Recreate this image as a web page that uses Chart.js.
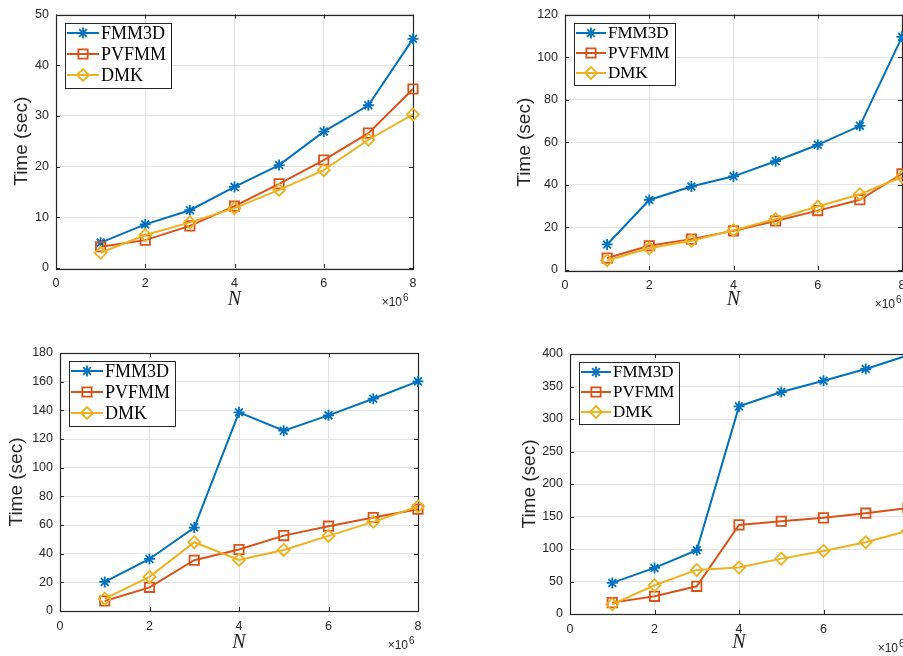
<!DOCTYPE html>
<html>
<head>
<meta charset="utf-8">
<script src="https://cdn.jsdelivr.net/npm/chart.js@4.4.1/dist/chart.umd.min.js"></script>
<style>
  html, body { margin: 0; padding: 0; background: #fff; overflow: hidden; width: 903px; height: 656px; }
  canvas { position: absolute; }
</style>
</head>
<body>
<canvas id="p1" width="450" height="320" style="left:0;top:0"></canvas>
<canvas id="p2" width="500" height="320" style="left:450px;top:0"></canvas>
<canvas id="p3" width="450" height="336" style="left:0;top:320px"></canvas>
<canvas id="p4" width="500" height="336" style="left:450px;top:320px"></canvas>
<script>
// N (in units of 10^6) shared by all four panels
var nValues = [1, 2, 3, 4, 5, 6, 7, 8];
var seriesNames = ['FMM3D', 'PVFMM', 'DMK'];

// top-left panel
var fmmA = [5.0, 8.6, 11.4, 16.0, 20.3, 26.9, 32.1, 45.2];
var pvfA = [4.2, 5.5, 8.3, 12.2, 16.6, 21.3, 26.6, 35.3];
var dmkA = [3.0, 6.5, 9.0, 11.8, 15.4, 19.3, 25.3, 30.3];
// top-right panel
var fmmB = [12.0, 32.9, 39.2, 44.0, 51.1, 58.8, 67.7, 109.5];
var pvfB = [5.6, 11.4, 14.5, 18.4, 23.0, 27.9, 33.0, 45.2];
var dmkB = [4.5, 10.2, 13.7, 18.7, 23.9, 29.8, 35.6, 43.7];
// bottom-left panel
var fmmC = [20.3, 36.3, 58.2, 138.6, 125.8, 136.5, 148.1, 160.2];
var pvfC = [7.0, 16.5, 35.4, 42.9, 52.6, 59.2, 65.2, 71.0];
var dmkC = [8.6, 23.8, 48.0, 35.6, 42.6, 52.4, 62.2, 72.9];
// bottom-right panel
var fmmD = [47.8, 70.9, 98.1, 319.4, 341.5, 358.9, 376.9, 398];
var pvfD = [17.5, 27.2, 42.6, 137.1, 142.7, 147.9, 155.1, 163];
var dmkD = [14.9, 44.2, 67.8, 71.4, 85.2, 97.0, 110.4, 128];

// axis ranges: [max, step]
var yRangeA = [50, 10];
var yRangeB = [120, 20];
var yRangeC = [180, 20];
var yRangeD = [400, 50];
var xRange = [8, 2];

var INK = '#262626';
var COLORS = ['#0072BD', '#D95319', '#EDB120'];
var STYLES = [
  { pointStyle: 'star', radius: 5.5 },
  { pointStyle: 'rect', radius: 6.6 },
  { pointStyle: 'rectRot', radius: 6 }
];

function pts(ys) {
  return ys.map(function (y, i) { return { x: nValues[i], y: y }; });
}

function drawMarker(ctx, st, x, y) {
  if (Chart.helpers && Chart.helpers.drawPoint) {
    Chart.helpers.drawPoint(ctx, { pointStyle: st.pointStyle, radius: st.radius, rotation: 0, borderWidth: 1.8 }, x, y);
  }
}

// MATLAB-like box: frame, inward ticks, legend box and the x10^6 exponent
var matlabBox = {
  id: 'matlabBox',
  beforeDatasetsDraw: function (chart) {
    var ctx = chart.ctx, a = chart.chartArea;
    var sx = chart.scales.x, sy = chart.scales.y, tl = 4;
    ctx.save();
    ctx.strokeStyle = INK;
    ctx.lineWidth = 1;
    ctx.beginPath();
    sx.ticks.forEach(function (t) {
      var px = Math.round(sx.getPixelForValue(t.value)) + 0.5;
      ctx.moveTo(px, a.bottom); ctx.lineTo(px, a.bottom - tl);
      ctx.moveTo(px, a.top); ctx.lineTo(px, a.top + tl);
    });
    sy.ticks.forEach(function (t) {
      var py = Math.round(sy.getPixelForValue(t.value)) + 0.5;
      ctx.moveTo(a.left, py); ctx.lineTo(a.left + tl, py);
      ctx.moveTo(a.right, py); ctx.lineTo(a.right - tl, py);
    });
    ctx.stroke();
    ctx.lineWidth = 1.2;
    ctx.strokeRect(Math.round(a.left) + 0.5, Math.round(a.top) + 0.5, Math.round(a.right - a.left), Math.round(a.bottom - a.top));
    ctx.restore();
  },
  afterDraw: function (chart, args, o) {
    var ctx = chart.ctx, a = chart.chartArea;
    ctx.save();
    // exponent label
    ctx.fillStyle = INK;
    ctx.textBaseline = 'middle';
    ctx.font = '12px "Liberation Sans", Arial, sans-serif';
    ctx.textAlign = 'right';
    var ex = a.right + o.expDx;
    ctx.fillText('\u00d710', ex, a.bottom + 35);
    ctx.font = '10px "Liberation Sans", Arial, sans-serif';
    ctx.textAlign = 'left';
    ctx.fillText('6', ex + 1, a.bottom + 30);
    // legend
    var x0 = Math.round(a.left + 9), y0 = Math.round(a.top + 8);
    ctx.fillStyle = '#fff';
    ctx.fillRect(x0, y0, o.w, o.h);
    ctx.strokeStyle = INK;
    ctx.lineWidth = 1;
    ctx.strokeRect(x0 + 0.5, y0 + 0.5, o.w, o.h);
    chart.data.datasets.forEach(function (ds, i) {
      var y = y0 + o.first + i * o.step;
      ctx.strokeStyle = ds.borderColor;
      ctx.lineWidth = 2;
      ctx.beginPath();
      ctx.moveTo(x0 + 2, y); ctx.lineTo(x0 + 2 + o.line, y);
      ctx.stroke();
      ctx.fillStyle = 'rgba(0,0,0,0)';
      ctx.lineWidth = 1.8;
      drawMarker(ctx, STYLES[i], x0 + 2 + o.line / 2, y);
      ctx.fillStyle = '#000';
      ctx.font = o.font + 'px "Liberation Serif", "Times New Roman", serif';
      ctx.textAlign = 'left';
      ctx.textBaseline = 'middle';
      ctx.fillText(ds.label, x0 + o.line + 4, y + 1);
    });
    ctx.restore();
  }
};

function makePanel(id, series, yRange, geo) {
  var datasets = series.map(function (ys, i) {
    return {
      label: seriesNames[i],
      data: pts(ys),
      borderColor: COLORS[i],
      backgroundColor: 'rgba(0,0,0,0)',
      borderWidth: 2,
      pointStyle: STYLES[i].pointStyle,
      pointRadius: STYLES[i].radius,
      pointHoverRadius: STYLES[i].radius,
      pointBorderWidth: 1.8,
      pointBorderColor: COLORS[i],
      pointBackgroundColor: 'rgba(0,0,0,0)',
      tension: 0,
      clip: false,
      order: 2 - i
    };
  });
  var tickFont = { family: '"Liberation Sans", Arial, sans-serif', size: 12.5 };
  new Chart(document.getElementById(id).getContext('2d'), {
    type: 'line',
    data: { datasets: datasets },
    plugins: [matlabBox],
    options: {
      responsive: false,
      animation: false,
      events: [],
      layout: { autoPadding: false, padding: geo.pad },
      plugins: {
        legend: { display: false },
        tooltip: { enabled: false },
        matlabBox: geo.legend
      },
      scales: {
        x: {
          type: 'linear', min: 0, max: xRange[0],
          ticks: { stepSize: xRange[1], color: INK, font: tickFont, padding: 8, maxRotation: 0 },
          grid: { color: '#e3e3e3', drawTicks: false },
          border: { display: false },
          title: { display: true, text: 'N', color: INK, padding: 0,
                   font: { family: '"Liberation Serif", "Times New Roman", serif', style: 'italic', size: 20 } },
          afterFit: function (s) { s.height = geo.xH; }
        },
        y: {
          min: 0, max: yRange[0],
          ticks: { stepSize: yRange[1], color: INK, font: tickFont, padding: 7 },
          grid: { color: '#e3e3e3', drawTicks: false },
          border: { display: false },
          title: { display: true, text: 'Time (sec)', color: INK, padding: 0,
                   font: { family: '"Liberation Sans", Arial, sans-serif', size: 19 } },
          afterFit: function (s) { s.width = geo.yW; }
        }
      }
    }
  });
}

makePanel('p1', [fmmA, pvfA, dmkA], yRangeA, {
  pad: { left: 10, top: 11, right: 37, bottom: 8 }, yW: 46, xH: 44,
  legend: { w: 106, h: 65, first: 10, step: 21, line: 32, font: 18, expDx: -11 }
});
makePanel('p2', [fmmB, pvfB, dmkB], yRangeB, {
  pad: { left: 63, top: 11, right: 48, bottom: 8 }, yW: 52, xH: 42,
  legend: { w: 101, h: 62, first: 10, step: 20, line: 30, font: 17, expDx: -7 }
});
makePanel('p3', [fmmC, pvfC, dmkC], yRangeC, {
  pad: { left: 5, top: 33, right: 32, bottom: 1 }, yW: 55, xH: 44,
  legend: { w: 106, h: 65, first: 10, step: 21, line: 32, font: 18, expDx: -10 }
});
makePanel('p4', [fmmD, pvfD, dmkD], yRangeD, {
  pad: { left: 68, top: 34, right: 42, bottom: 1 }, yW: 52, xH: 41,
  legend: { w: 100, h: 62, first: 10, step: 20, line: 30, font: 17, expDx: -10 }
});
</script>
</body>
</html>
